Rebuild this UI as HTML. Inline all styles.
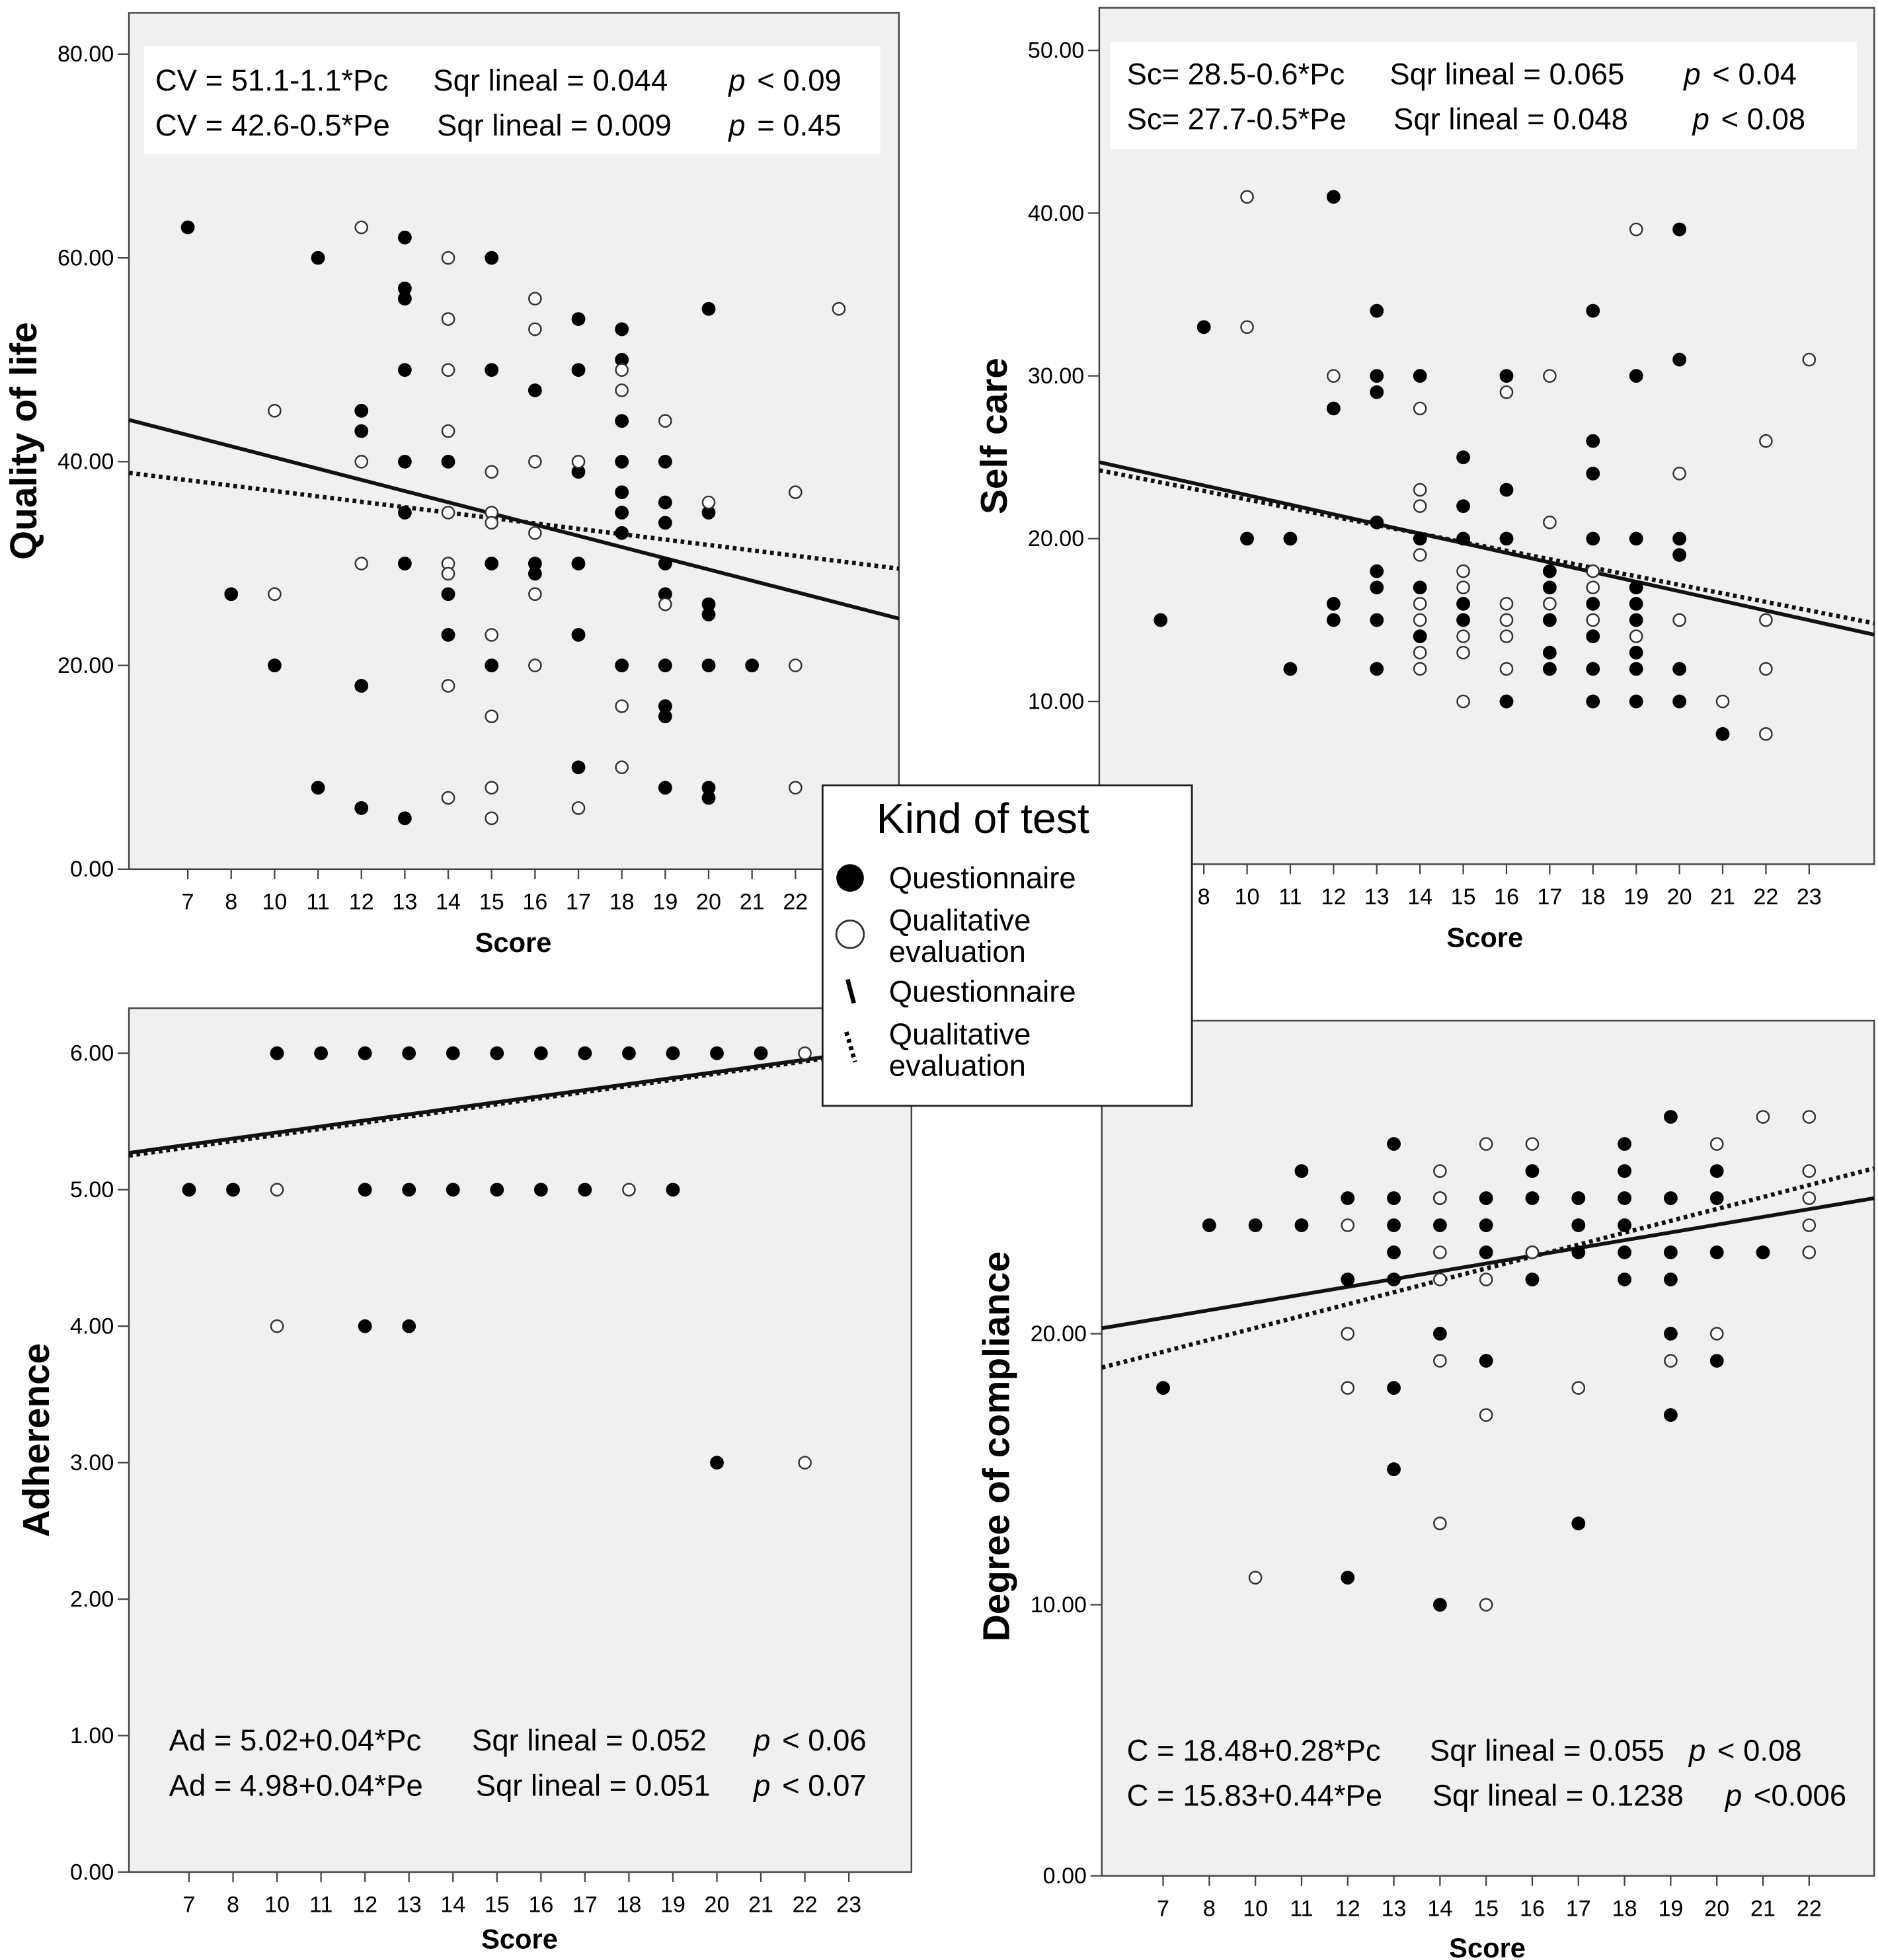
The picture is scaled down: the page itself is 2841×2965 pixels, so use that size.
<!DOCTYPE html>
<html><head><meta charset="utf-8"><style>
html,body{margin:0;padding:0;background:#fff}
svg{display:block}
text{font-family:"Liberation Sans","DejaVu Sans",sans-serif;fill:#000}
</style></head><body>
<svg id="chart" width="2841" height="2965" viewBox="0 0 1500 1565" xmlns="http://www.w3.org/2000/svg"></svg>
<script>
// ---- data ----
const cats1 = [7,8,10,11,12,13,14,15,16,17,18,19,20,21,22,23];
const cats4 = [7,8,10,11,12,13,14,15,16,17,18,19,20,21,22];
const yTicks1 = [0,20,40,60,80];
const yTicks2 = [10,20,30,40,50];
const yTicks3 = [0,1,2,3,4,5,6];
const yTicks4 = [0,10,20];
// points: [score, value]
const qolFilled = [[7,63],[8,27],[10,20],[11,60],[11,8],[12,45],[12,43],[12,18],[12,6],[13,62],[13,57],[13,56],[13,49],[13,40],[13,35],[13,30],[13,5],[14,40],[14,27],[14,23],[15,60],[15,49],[15,30],[15,20],[16,47],[16,30],[16,29],[17,54],[17,49],[17,39],[17,30],[17,23],[17,10],[18,53],[18,50],[18,44],[18,40],[18,37],[18,35],[18,33],[18,20],[19,40],[19,36],[19,34],[19,30],[19,27],[19,20],[19,16],[19,15],[19,8],[20,55],[20,35],[20,26],[20,25],[20,20],[20,8],[20,7],[21,20]];
const qolOpen = [[10,45],[10,27],[12,63],[12,40],[12,30],[14,60],[14,54],[14,49],[14,43],[14,35],[14,30],[14,29],[14,18],[14,7],[15,39],[15,35],[15,34],[15,23],[15,15],[15,8],[15,5],[16,56],[16,53],[16,40],[16,33],[16,27],[16,20],[17,40],[17,6],[18,49],[18,47],[18,16],[18,10],[19,44],[19,26],[20,36],[22,37],[22,20],[22,8],[23,55]];
const qolLines = {solid:[44.1,24.6], dotted:[38.9,29.5]};
const scFilled = [[7,15],[8,33],[10,20],[11,20],[11,12],[12,41],[12,28],[12,16],[12,15],[13,34],[13,30],[13,29],[13,21],[13,18],[13,17],[13,15],[13,12],[14,30],[14,20],[14,17],[14,14],[15,25],[15,22],[15,20],[15,16],[15,15],[16,30],[16,23],[16,20],[16,10],[17,18],[17,17],[17,15],[17,13],[17,12],[18,34],[18,26],[18,24],[18,20],[18,16],[18,14],[18,12],[18,10],[19,30],[19,20],[19,17],[19,16],[19,15],[19,13],[19,12],[19,10],[20,39],[20,31],[20,20],[20,19],[20,12],[20,10],[21,8]];
const scOpen = [[10,41],[10,33],[12,30],[14,28],[14,23],[14,22],[14,19],[14,16],[14,15],[14,13],[14,12],[15,18],[15,17],[15,14],[15,13],[15,10],[16,29],[16,16],[16,15],[16,14],[16,12],[17,30],[17,21],[17,16],[18,18],[18,17],[18,15],[19,39],[19,14],[20,24],[20,15],[21,10],[22,26],[22,15],[22,12],[22,8],[23,31]];
const scLines = {solid:[24.7,14.1], dotted:[24.2,14.8]};
const adFilled = [[10,6],[11,6],[12,6],[13,6],[14,6],[15,6],[16,6],[17,6],[18,6],[19,6],[20,6],[21,6],[7,5],[8,5],[12,5],[13,5],[14,5],[15,5],[16,5],[17,5],[19,5],[12,4],[13,4],[20,3]];
const adOpen = [[22,6],[10,5],[18,5],[10,4],[22,3]];
const adLines = {solid:[5.27,6.06], dotted:[5.25,6.05]};
const cFilled = [[7,18],[8,24],[10,24],[11,26],[11,24],[12,25],[12,22],[12,11],[13,27],[13,25],[13,24],[13,23],[13,22],[13,18],[13,15],[14,25],[14,24],[14,20],[14,10],[15,25],[15,24],[15,23],[15,19],[16,26],[16,25],[16,23],[16,22],[17,25],[17,24],[17,23],[17,13],[18,27],[18,26],[18,25],[18,24],[18,23],[18,22],[19,28],[19,25],[19,23],[19,22],[19,20],[19,17],[20,26],[20,25],[20,23],[20,19],[21,23]];
const cOpen = [[10,11],[12,24],[12,20],[12,18],[14,26],[14,25],[14,23],[14,22],[14,19],[14,13],[15,27],[15,22],[15,17],[15,10],[16,27],[16,23],[17,18],[19,19],[20,27],[20,20],[21,28],[22,28],[22,26],[22,25],[22,24],[22,23]];
const cLines = {solid:[20.2,25.0], dotted:[18.75,26.1]};

const NS = "http://www.w3.org/2000/svg";
const svg = document.getElementById('chart');
function mk(tag, attrs, parent, txt){
  const e = document.createElementNS(NS, tag);
  for (const k in attrs) e.setAttribute(k, attrs[k]);
  if (txt !== undefined) e.textContent = txt;
  (parent||svg).appendChild(e); return e;
}

function panel(o){
  const g = mk('g', {});
  
  
  const bg = mk('rect', {x:o.x0, y:o.top, width:o.x1-o.x0, height:o.y0-o.top, fill:'#f0f0f0', stroke:'#444', 'stroke-width':1.3}, g);
  
  
  const step = (o.cxLast - o.cxFirst)/(o.cats.length-1);
  const xS = v => o.cxFirst + o.cats.indexOf(v)*step;
  const yS = v => o.y0 - (v - o.vmin)*(o.y0 - o.yMaxPx)/(o.vmax - o.vmin);
  // y ticks
  o.yTicks.forEach(t=>{
    const y = yS(t);
    mk('line', {x1:o.x0-9, x2:o.x0, y1:y, y2:y, stroke:'#444', 'stroke-width':1.2}, g);
    const tl = mk('text', {x:o.x0-12, y:y+6, 'text-anchor':'end', 'font-size':18}, g, t.toFixed(2));
    
    
  });
  o.cats.forEach(c=>{
    const x = xS(c);
    mk('line', {x1:x, x2:x, y1:o.y0, y2:o.y0+8, stroke:'#444', 'stroke-width':1.2}, g);
    const tl = mk('text', {x:x, y:o.y0+32, 'text-anchor':'middle', 'font-size':18}, g, String(c));
    
    
  });
  // lines
  const ls = mk('line', {x1:o.x0, y1:yS(o.lines.solid[0]), x2:o.lineEnd||o.x1, y2:yS(o.lines.solid[1]), stroke:'#111', 'stroke-width':3}, g);
  
  
  const ld = mk('line', {x1:o.x0, y1:yS(o.lines.dotted[0]), x2:o.lineEnd||o.x1, y2:yS(o.lines.dotted[1]), stroke:'#111', 'stroke-width':3.5, 'stroke-dasharray':'3 3'}, g);
  
  
  o.filled.forEach(p=>{
    const c = mk('circle', {cx:xS(p[0]), cy:yS(p[1]), r:5.5, fill:'#000'}, g);
    
    
  });
  o.open.forEach(p=>{
    const c = mk('circle', {cx:xS(p[0]), cy:yS(p[1]), r:4.8, fill:'#fff', stroke:'#333', 'stroke-width':1.3}, g);
    
    
  });
  const xt = mk('text', {x:o.scoreX, y:o.scoreY, 'text-anchor':'middle', 'font-size':22, 'font-weight':'bold'}, g, 'Score');
  
  
  const yt = mk('text', {x:0, y:0, 'text-anchor':'middle', 'font-size':30, 'font-weight':'bold', transform:`translate(${o.ytX},${o.ytY}) rotate(-90)`}, g, o.ytitle);
  
  
  if (o.box) {
    const b = mk('rect', {x:o.box[0], y:o.box[1], width:o.box[2], height:o.box[3], fill:'#fff'}, g);
    
    
  }
  o.eq.forEach(e=>{
    const t = mk('text', {x:e[0], y:e[1], 'font-size':24, 'xml:space':'preserve'}, g);
    
    
    e[2].forEach(s=>{ mk('tspan', s[2]?{x:s[0],'font-style':'italic'}:{x:s[0]}, t, s[1]); });
  });
}

panel({name:'panel-quality-of-life', x0:103, x1:718, top:10, y0:694, yMaxPx:43, vmin:0, vmax:80, yTicks:yTicks1,
  cats:cats1, cxFirst:150, cxLast:670, filled:qolFilled, open:qolOpen, lines:qolLines,
  scoreX:410, scoreY:760, ytitle:'Quality of life', ytX:29, ytY:352, box:[115,37,588,86],
  eq:[[124,72,[[124,'CV = 51.1-1.1*Pc'],[346,'Sqr lineal = 0.044'],[582,'p',1],[598,' < 0.09']]],
      [124,108,[[124,'CV = 42.6-0.5*Pe'],[349,'Sqr lineal = 0.009'],[582,'p',1],[598,' = 0.45']]]]});
panel({name:'panel-self-care', x0:878, x1:1497, top:6, y0:690, yMaxPx:40, vmin:0, vmax:50, yTicks:yTicks2,
  cats:cats1, cxFirst:927, cxLast:1445, filled:scFilled, open:scOpen, lines:scLines,
  scoreX:1186, scoreY:756, ytitle:'Self care', ytX:804, ytY:348, box:[887,33,596,86],
  eq:[[900,67,[[900,'Sc= 28.5-0.6*Pc'],[1110,'Sqr lineal = 0.065'],[1345,'p',1],[1361,' < 0.04']]],
      [900,103,[[900,'Sc= 27.7-0.5*Pe'],[1113,'Sqr lineal = 0.048'],[1352,'p',1],[1368,' < 0.08']]]]});
panel({name:'panel-adherence', x0:103, x1:728, top:805, y0:1495, yMaxPx:841, vmin:0, vmax:6, yTicks:yTicks3,
  cats:cats1, cxFirst:151, cxLast:678, filled:adFilled, open:adOpen, lines:adLines, lineEnd:728,
  scoreX:415, scoreY:1556, ytitle:'Adherence', ytX:39, ytY:1150, box:null,
  eq:[[135,1398,[[135,'Ad = 5.02+0.04*Pc'],[377,'Sqr lineal = 0.052'],[602,'p',1],[618,' < 0.06']]],
      [135,1434,[[135,'Ad = 4.98+0.04*Pe'],[380,'Sqr lineal = 0.051'],[602,'p',1],[618,' < 0.07']]]]});
panel({name:'panel-degree-of-compliance', x0:880, x1:1497, top:815, y0:1498, yMaxPx:1065, vmin:0, vmax:20, yTicks:yTicks4,
  cats:cats4, cxFirst:929, cxLast:1445, filled:cFilled, open:cOpen, lines:cLines,
  scoreX:1188, scoreY:1563, ytitle:'Degree of compliance', ytX:806, ytY:1155, box:null,
  eq:[[900,1406,[[900,'C = 18.48+0.28*Pc'],[1142,'Sqr lineal = 0.055'],[1349,'p',1],[1365,' < 0.08']]],
      [900,1442,[[900,'C = 15.83+0.44*Pe'],[1144,'Sqr lineal = 0.1238'],[1378,'p',1],[1394,' <0.006']]]]});

// legend
const lg = mk('g', {});


mk('rect', {x:657, y:627, width:295, height:256, fill:'#fff', stroke:'#222', 'stroke-width':1.5}, lg);
const lt = mk('text', {x:700, y:665, 'font-size':34}, lg, 'Kind of test');


mk('circle', {cx:679, cy:701, r:11, fill:'#000'}, lg);
mk('circle', {cx:679, cy:746, r:11, fill:'#fff', stroke:'#333', 'stroke-width':1.5}, lg);
mk('line', {x1:677, y1:782, x2:682, y2:801, stroke:'#000', 'stroke-width':3.5}, lg);
mk('line', {x1:676, y1:824, x2:683, y2:848, stroke:'#000', 'stroke-width':3.5, 'stroke-dasharray':'3 3'}, lg);
[['Questionnaire',709],['Qualitative',743],['evaluation',768],['Questionnaire',800],['Qualitative',834],['evaluation',859]].forEach(e=>{
  const t = mk('text', {x:710, y:e[1], 'font-size':24}, lg, e[0]);
  
  
});
</script>
</body></html>
